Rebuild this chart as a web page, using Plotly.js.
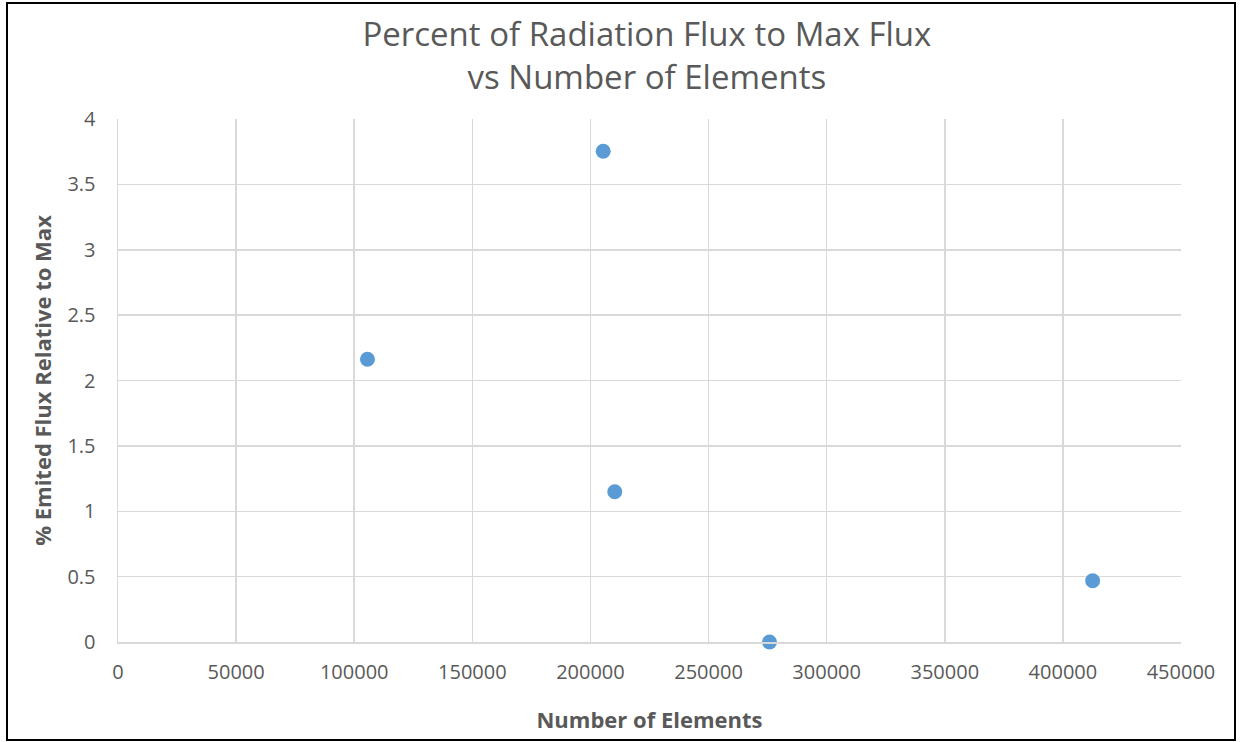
<!DOCTYPE html>
<html>
<head>
<meta charset="utf-8">
<script src="https://cdn.plot.ly/plotly-3.0.1.min.js"></script>
<style>
  html, body { margin: 0; padding: 0; background: #ffffff; }
  #wrap { position: relative; width: 1244px; height: 742px; }
  #chart { width: 1244px; height: 742px; }
  #frame {
    position: absolute; left: 6px; top: 2px; width: 1226px; height: 735px;
    border: 2px solid #000000; pointer-events: none;
  }
</style>
</head>
<body>
<div id="wrap">
  <div id="chart"></div>
  <div id="frame"></div>
</div>
<script>
// Mesh size and radiation flux results
const elementCounts = [105600, 205400, 210300, 275800, 412600];
const fluxPercent = [2.163, 3.753, 1.149, 0, 0.469];

const chartTitle = 'Percent of Radiation Flux to Max Flux<br>vs Number of Elements';
const xTitle = 'Number of Elements';
const yTitle = '% Emited Flux Relative to Max';

const textColor = '#595959';
const gridColor = '#d9d9d9';
const fontFamily = '"Open Sans", "Noto Sans", sans-serif';

const trace = {
  type: 'scatter',
  mode: 'markers',
  x: elementCounts,
  y: fluxPercent,
  marker: { color: '#5b9bd5', size: 15, line: { width: 0 } },
  cliponaxis: false,
  hoverinfo: 'x+y'
};

const layout = {
  width: 1244,
  height: 742,
  margin: { l: 118, r: 63, t: 119, b: 100, pad: 0 },
  paper_bgcolor: '#ffffff',
  plot_bgcolor: '#ffffff',
  showlegend: false,
  font: { family: fontFamily, color: textColor },
  title: {
    text: chartTitle,
    font: { family: fontFamily, size: 33, color: textColor },
    x: 0.52, xanchor: 'center',
    yref: 'container',
    y: 0.938, yanchor: 'middle'
  },
  xaxis: {
    range: [0, 450000],
    dtick: 50000,
    tick0: 0,
    tickformat: 'd',
    showgrid: true,
    gridcolor: gridColor,
    gridwidth: 1.5,
    zeroline: false,
    showline: true,
    linecolor: gridColor,
    linewidth: 1.5,
    ticks: 'outside',
    ticklen: 11,
    tickcolor: 'rgba(0,0,0,0)',
    tickfont: { family: fontFamily, size: 20, color: textColor },
    title: {
      text: '<b>' + xTitle + '</b>',
      font: { family: fontFamily, size: 22, color: textColor },
      standoff: 29
    },
    automargin: false
  },
  yaxis: {
    range: [0, 4],
    dtick: 0.5,
    tick0: 0,
    showgrid: true,
    gridcolor: gridColor,
    gridwidth: 1.5,
    zeroline: false,
    showline: true,
    linecolor: gridColor,
    linewidth: 1.5,
    ticks: 'outside',
    ticklen: 17,
    tickcolor: 'rgba(0,0,0,0)',
    tickfont: { family: fontFamily, size: 20, color: textColor },
    title: {
      text: '<b>' + yTitle + '</b>',
      font: { family: fontFamily, size: 22, color: textColor },
      standoff: 9
    },
    automargin: false
  }
};

Plotly.newPlot('chart', [trace], layout, { displayModeBar: false, staticPlot: true });
</script>
</body>
</html>
